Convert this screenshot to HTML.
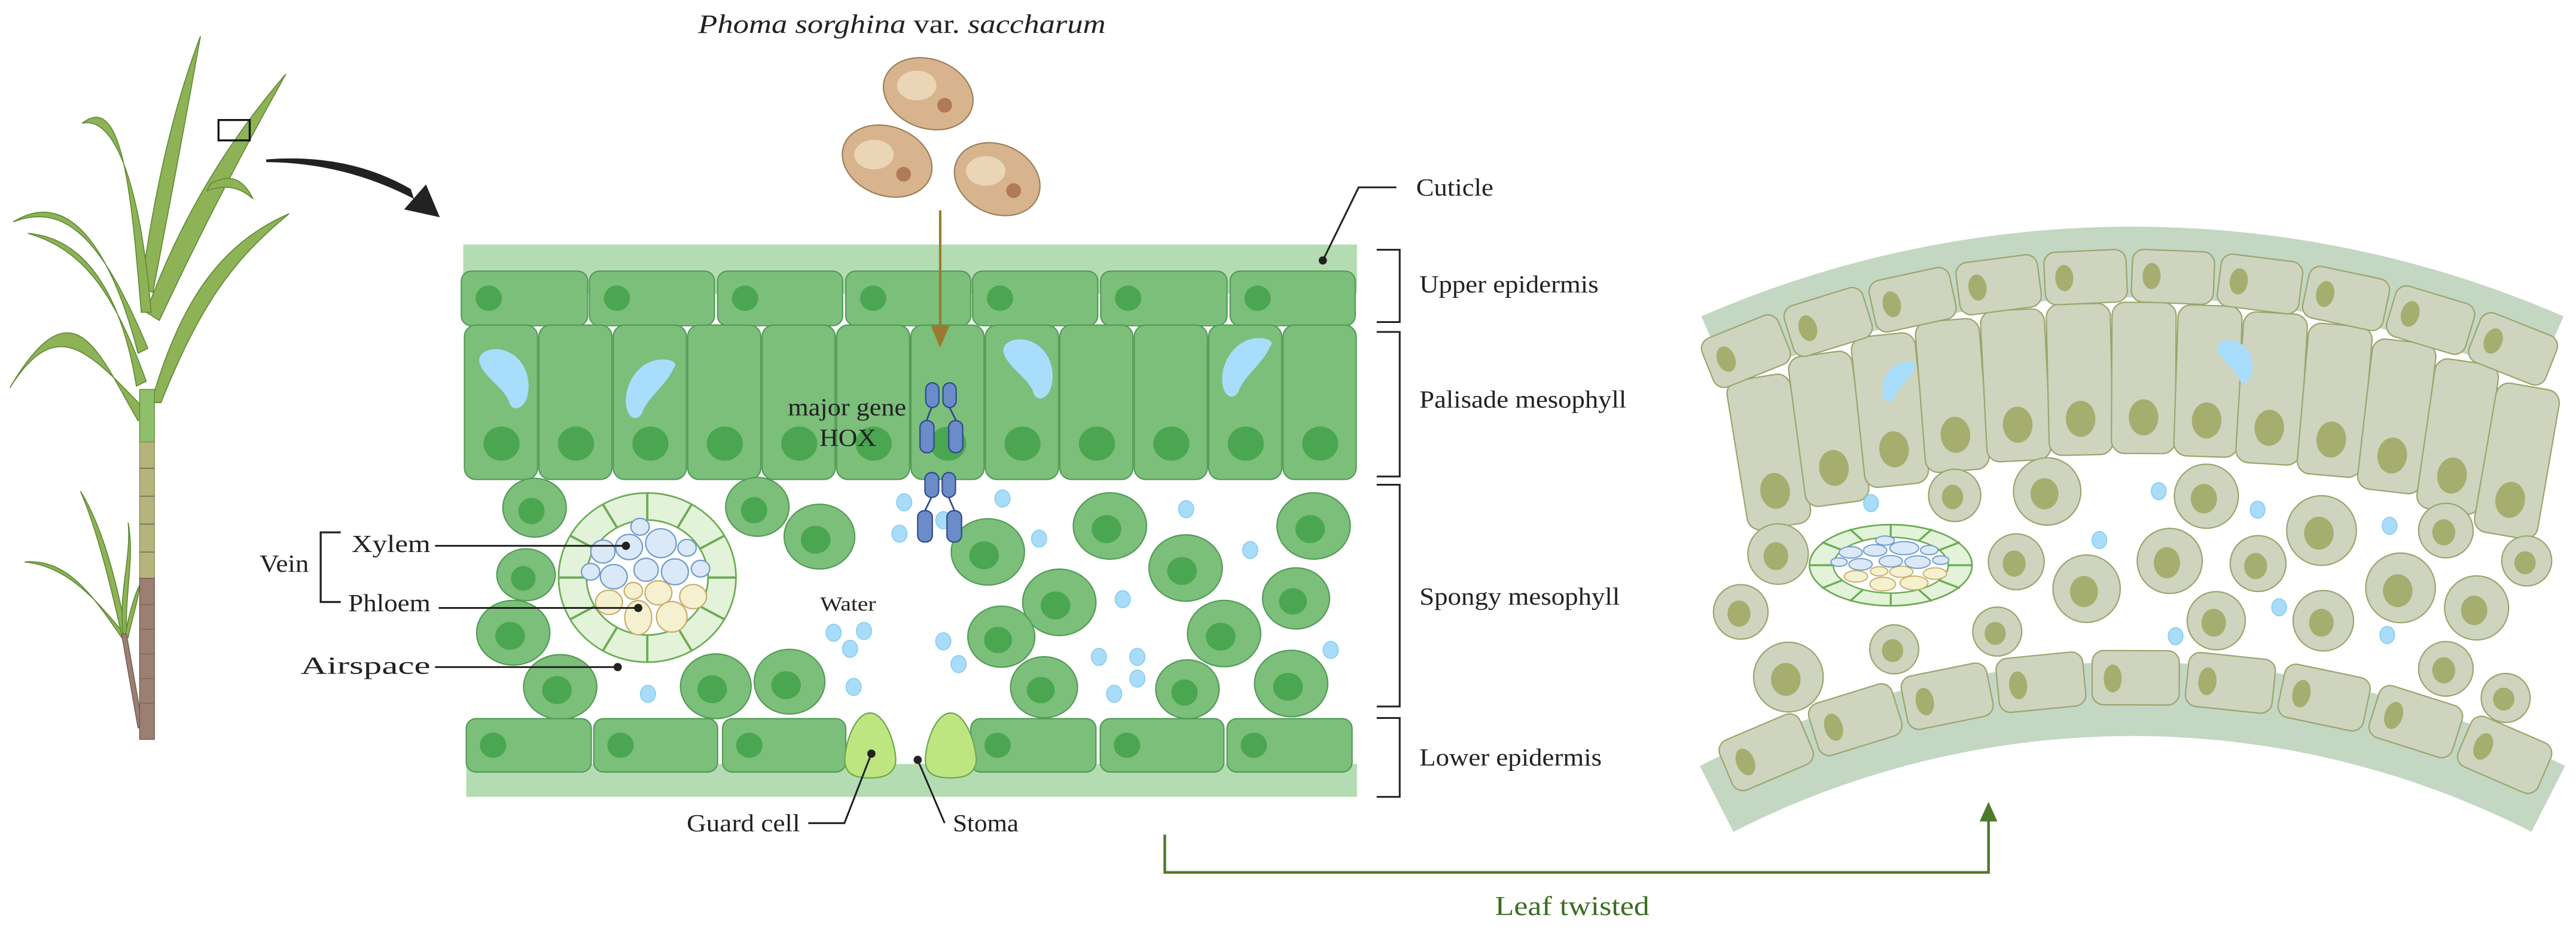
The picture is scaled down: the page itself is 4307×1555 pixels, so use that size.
<!DOCTYPE html>
<html><head><meta charset="utf-8"><style>
html,body{margin:0;padding:0;background:#fff;}
svg{display:block;}
text{font-family:"Liberation Serif",serif;fill:#222;}
</style></head><body>
<svg width="4307" height="1555" viewBox="0 0 1568 566" xmlns="http://www.w3.org/2000/svg">
<defs>
<g id="rpal"><rect x="1278.5" y="184" width="39" height="92" rx="8" fill="#ced4be" stroke="#9ba56c" stroke-width="0.8"/><ellipse cx="1298" cy="254" rx="9" ry="11" fill="#a5ae6f"/></g>
<g id="rup"><rect x="1273" y="152" width="50" height="32" rx="7" fill="#ced4be" stroke="#9ba56c" stroke-width="0.8"/><ellipse cx="1285" cy="168" rx="5.5" ry="8" fill="#a5ae6f"/></g>
<g id="rlo"><rect x="1271.5" y="396" width="53" height="33" rx="7" fill="#ced4be" stroke="#9ba56c" stroke-width="0.8"/><ellipse cx="1284" cy="413" rx="5.5" ry="8.5" fill="#a5ae6f"/></g>
</defs>

<!-- ===== Sugarcane plant ===== -->
<g fill="#8db356" stroke="#5f8a35" stroke-width="0.6">
<path d="M86,175 Q98,85 122,22 Q110,90 93,178 Z"/>
<path d="M89,190 Q118,110 174,45 Q132,120 97,195 Z"/>
<path d="M128,112 Q145,102 154,121 Q142,110 126,116 Z"/>
<path d="M86,190 C80,120 75,55 50,75 C72,70 86,120 92,190 Z"/>
<path d="M84,215 C70,160 45,112 8,135 C42,122 64,150 90,212 Z"/>
<path d="M83,235 C75,185 55,145 17,142 C52,152 70,180 89,232 Z"/>
<path d="M84,256 C60,215 45,170 6,236 C35,190 55,215 89,250 Z"/>
<path d="M92,245 C108,190 130,150 176,130 C142,158 122,185 98,245 Z"/>
<path d="M74,388 C55,360 40,340 15,342 C42,345 58,365 76,386 Z"/>
<path d="M74,386 C66,350 58,320 49,299 C62,320 70,350 77,385 Z"/>
<path d="M75,386 C72,360 80,340 78,318 C82,340 76,360 77,386 Z"/>
<path d="M76,388 C78,375 82,362 85,356 C84,366 80,378 78,388 Z"/>
</g>
<path d="M74,386 L84,443 L87,443 L77,386 Z" fill="#9c7f72" stroke="#6e574c" stroke-width="0.5"/>
<rect x="85" y="237" width="9" height="32" fill="#8fbf6a" stroke="#5f8a35" stroke-width="0.5"/>
<rect x="85" y="269" width="9" height="83" fill="#b5b47c" stroke="#8a8a55" stroke-width="0.5"/>
<rect x="85" y="352" width="9" height="98" fill="#9c7f72" stroke="#6e574c" stroke-width="0.5"/>
<g stroke="#7a6a55" stroke-width="0.6">
<line x1="85" y1="285" x2="94" y2="285"/><line x1="85" y1="302" x2="94" y2="302"/><line x1="85" y1="319" x2="94" y2="319"/><line x1="85" y1="336" x2="94" y2="336"/><line x1="85" y1="368" x2="94" y2="368"/><line x1="85" y1="383" x2="94" y2="383"/><line x1="85" y1="398" x2="94" y2="398"/><line x1="85" y1="413" x2="94" y2="413"/><line x1="85" y1="428" x2="94" y2="428"/>
</g>
<rect x="133" y="73" width="19" height="12.4" fill="none" stroke="#111" stroke-width="1.2"/>
<path d="M162,97 Q212,93 250,115 L252,121 Q210,99 162,98.6 Z" fill="#222"/>
<polygon points="267.7,132.2 246,127.4 259.3,112.2" fill="#222"/>

<!-- ===== Title & spores ===== -->
<text x="425" y="20" font-size="16" textLength="248" lengthAdjust="spacingAndGlyphs"><tspan font-style="italic">Phoma sorghina</tspan> var. <tspan font-style="italic">saccharum</tspan></text>
<g stroke="#9e7f5c" stroke-width="0.8">
<ellipse cx="565" cy="57" rx="28" ry="21" transform="rotate(20 565 57)" fill="#d7b48e"/>
<ellipse cx="540" cy="98" rx="28" ry="21" transform="rotate(20 540 98)" fill="#d7b48e"/>
<ellipse cx="607" cy="109" rx="27" ry="21" transform="rotate(25 607 109)" fill="#d7b48e"/>
</g>
<g fill="#ead6b6"><ellipse cx="558" cy="52" rx="12" ry="9"/><ellipse cx="532" cy="94" rx="12" ry="9"/><ellipse cx="600" cy="104" rx="12" ry="9"/></g>
<g fill="#b07a56"><circle cx="575" cy="64" r="4.5"/><circle cx="550" cy="106" r="4.5"/><circle cx="617" cy="116" r="4.5"/></g>

<!-- ===== Left leaf cross-section ===== -->
<rect x="282" y="148.8" width="544" height="30" fill="#b4dcb2"/>
<rect x="283.8" y="465" width="542.2" height="20" fill="#b4dcb2"/>
<g fill="#7bbf7a" stroke="#539b58" stroke-width="0.8">
<rect x="280.8" y="165" width="76.9" height="33.2" rx="6"/><rect x="358.8" y="165" width="76.1" height="33.2" rx="6"/><rect x="436.8" y="165" width="76.1" height="33.2" rx="6"/><rect x="514.8" y="165" width="76.1" height="33.2" rx="6"/><rect x="592" y="165" width="76.2" height="33.2" rx="6"/><rect x="670" y="165" width="76.9" height="33.2" rx="6"/><rect x="748.8" y="165" width="76.1" height="33.2" rx="6"/>
<rect x="282.7" y="197.8" width="44.5" height="94" rx="7"/><rect x="328" y="197.8" width="44.5" height="94" rx="7"/><rect x="373.3" y="197.8" width="44.5" height="94" rx="7"/><rect x="418.6" y="197.8" width="44.5" height="94" rx="7"/><rect x="463.9" y="197.8" width="44.5" height="94" rx="7"/><rect x="509.2" y="197.8" width="44.5" height="94" rx="7"/><rect x="554.5" y="197.8" width="44.5" height="94" rx="7"/><rect x="599.8" y="197.8" width="44.5" height="94" rx="7"/><rect x="645.1" y="197.8" width="44.5" height="94" rx="7"/><rect x="690.4" y="197.8" width="44.5" height="94" rx="7"/><rect x="735.7" y="197.8" width="44.5" height="94" rx="7"/><rect x="781" y="197.8" width="44.5" height="94" rx="7"/>
</g>
<g fill="#4aa651">
<ellipse cx="297.5" cy="181.5" rx="8" ry="7.7"/><ellipse cx="375.5" cy="181.5" rx="8" ry="7.7"/><ellipse cx="453.5" cy="181.5" rx="8" ry="7.7"/><ellipse cx="531.5" cy="181.5" rx="8" ry="7.7"/><ellipse cx="608.7" cy="181.5" rx="8" ry="7.7"/><ellipse cx="686.7" cy="181.5" rx="8" ry="7.7"/><ellipse cx="765.5" cy="181.5" rx="8" ry="7.7"/>
<ellipse cx="305.3" cy="270" rx="11" ry="10.4"/><ellipse cx="350.6" cy="270" rx="11" ry="10.4"/><ellipse cx="395.9" cy="270" rx="11" ry="10.4"/><ellipse cx="441.2" cy="270" rx="11" ry="10.4"/><ellipse cx="486.5" cy="270" rx="11" ry="10.4"/><ellipse cx="531.8" cy="270" rx="11" ry="10.4"/><ellipse cx="577.1" cy="270" rx="11" ry="10.4"/><ellipse cx="622.4" cy="270" rx="11" ry="10.4"/><ellipse cx="667.7" cy="270" rx="11" ry="10.4"/><ellipse cx="713" cy="270" rx="11" ry="10.4"/><ellipse cx="758.3" cy="270" rx="11" ry="10.4"/><ellipse cx="803.6" cy="270" rx="11" ry="10.4"/>
</g>
<g fill="#a8ddfb">
<path transform="translate(290,211)" d="M2,10 C0,4 8,0 16,2 C28,5 34,18 31,30 C29,38 22,40 20,34 C18,26 4,18 2,10 Z"/>
<path transform="translate(378,218)" d="M32,6 C36,2 28,0 22,1 C10,3 2,16 3,28 C4,37 10,39 13,33 C16,24 28,16 32,6 Z"/>
<path transform="translate(609,205)" d="M2,10 C0,4 8,0 16,2 C28,5 34,18 31,30 C29,38 22,40 20,34 C18,26 4,18 2,10 Z"/>
<path transform="translate(741,205)" d="M32,6 C36,2 28,0 22,1 C10,3 2,16 3,28 C4,37 10,39 13,33 C16,24 28,16 32,6 Z"/>
</g>
<!-- brown arrow on top -->
<line x1="572.3" y1="128" x2="572.3" y2="200" stroke="#9a7a2e" stroke-width="1.5"/>
<polygon points="566.5,198 578,198 572.3,211.5" fill="#9a7a2e"/>
<!-- spongy cells -->
<g fill="#7bbf7a" stroke="#539b58" stroke-width="0.8">
<ellipse cx="325.4" cy="309" rx="19.3" ry="17.9"/><ellipse cx="320.2" cy="349.8" rx="17.8" ry="15.8"/><ellipse cx="312.4" cy="385.1" rx="22.3" ry="19.7"/><ellipse cx="341" cy="418.1" rx="22.3" ry="19.7"/><ellipse cx="461" cy="308.5" rx="19.3" ry="17.9"/><ellipse cx="498.8" cy="326.6" rx="21.5" ry="19.7"/><ellipse cx="435.7" cy="417.7" rx="21.5" ry="19.7"/><ellipse cx="480.6" cy="414.9" rx="21.5" ry="19.7"/><ellipse cx="601.3" cy="335.9" rx="22.3" ry="20.2"/><ellipse cx="675.6" cy="320.1" rx="22.3" ry="20.2"/><ellipse cx="721.7" cy="345.7" rx="22.3" ry="20.2"/><ellipse cx="799.6" cy="320.1" rx="22.3" ry="20.2"/><ellipse cx="644.8" cy="366.6" rx="22.3" ry="20.2"/><ellipse cx="609.5" cy="387.5" rx="20.4" ry="18.6"/><ellipse cx="635.5" cy="418.3" rx="20.4" ry="18.6"/><ellipse cx="745.1" cy="385.6" rx="22.3" ry="20.2"/><ellipse cx="788.9" cy="364.2" rx="20.4" ry="18.6"/><ellipse cx="722.8" cy="419.5" rx="19.3" ry="17.9"/><ellipse cx="785.9" cy="416" rx="22.3" ry="20.2"/>
</g>
<g fill="#4aa651">
<ellipse cx="323.5" cy="311" rx="8" ry="8"/><ellipse cx="318.5" cy="352" rx="7.5" ry="7.5"/><ellipse cx="310.5" cy="387" rx="9" ry="8.5"/><ellipse cx="339" cy="420" rx="9" ry="8.5"/><ellipse cx="459" cy="310.5" rx="8" ry="8"/><ellipse cx="496.5" cy="328.5" rx="9" ry="8.5"/><ellipse cx="433.5" cy="419.5" rx="9" ry="8.5"/><ellipse cx="478.5" cy="417" rx="9" ry="8.5"/><ellipse cx="599" cy="338" rx="9" ry="8.5"/><ellipse cx="673.5" cy="322" rx="9" ry="8.5"/><ellipse cx="719.5" cy="347.5" rx="9" ry="8.5"/><ellipse cx="797.5" cy="322" rx="9" ry="8.5"/><ellipse cx="642.5" cy="368.5" rx="9" ry="8.5"/><ellipse cx="607.5" cy="389.5" rx="8.5" ry="8"/><ellipse cx="633.5" cy="420" rx="8.5" ry="8"/><ellipse cx="743" cy="387.5" rx="9" ry="8.5"/><ellipse cx="787" cy="366" rx="8.5" ry="8"/><ellipse cx="721" cy="421.5" rx="8" ry="8"/><ellipse cx="784" cy="418" rx="9" ry="8.5"/>
</g>
<!-- left vein -->
<ellipse cx="394" cy="351.5" rx="54" ry="51.5" fill="#e2f3d9" stroke="#6dab55" stroke-width="1"/>
<ellipse cx="394" cy="351.5" rx="37" ry="35" fill="#fff" stroke="#6dab55" stroke-width="1"/>
<g stroke="#6dab55" stroke-width="1.4">
<line x1="431" y1="351.5" x2="448" y2="351.5"/><line x1="357" y1="351.5" x2="340" y2="351.5"/><line x1="394" y1="316.5" x2="394" y2="300"/><line x1="394" y1="386.5" x2="394" y2="403"/>
<line x1="426" y1="334" x2="441" y2="326"/><line x1="426" y1="369" x2="441" y2="377"/><line x1="362" y1="334" x2="347" y2="326"/><line x1="362" y1="369" x2="347" y2="377"/>
<line x1="412.5" y1="321" x2="421" y2="307"/><line x1="375.5" y1="321" x2="367" y2="307"/><line x1="412.5" y1="382" x2="421" y2="396"/><line x1="375.5" y1="382" x2="367" y2="396"/>
</g>
<g fill="#f5f0cf" stroke="#c9ad6a" stroke-width="0.8">
<ellipse cx="385.5" cy="359.6" rx="5.6" ry="5.1"/><ellipse cx="400.8" cy="360.8" rx="8.2" ry="7.4"/><ellipse cx="370.7" cy="366.6" rx="8.2" ry="7.4"/><ellipse cx="421.9" cy="363.1" rx="8.2" ry="7.4"/><ellipse cx="388.5" cy="375.9" rx="8.2" ry="10.4"/><ellipse cx="408.9" cy="375.4" rx="9.3" ry="9.3"/>
</g>
<g fill="#dbe8f8" stroke="#6f9ccc" stroke-width="0.8">
<ellipse cx="389.6" cy="320.6" rx="5.6" ry="5.1"/><ellipse cx="382.9" cy="332.9" rx="8.2" ry="7.7"/><ellipse cx="402.3" cy="330.6" rx="9.3" ry="8.8"/><ellipse cx="418.2" cy="333.4" rx="5.6" ry="5.1"/><ellipse cx="367" cy="335.7" rx="7.4" ry="7"/><ellipse cx="359.5" cy="348" rx="5.6" ry="5.1"/><ellipse cx="373.6" cy="351" rx="8.2" ry="7.4"/><ellipse cx="393.3" cy="346.8" rx="7.4" ry="7"/><ellipse cx="410.8" cy="348" rx="8.2" ry="7.9"/><ellipse cx="426.4" cy="346.1" rx="5.6" ry="5.1"/>
</g>
<g fill="#a9dcf8" stroke="#86cdf3" stroke-width="0.6">
<ellipse cx="550.4" cy="305.7" rx="4.6" ry="5.2"/><ellipse cx="610.2" cy="303.4" rx="4.6" ry="5.2"/><ellipse cx="547.5" cy="324.8" rx="4.6" ry="5.2"/><ellipse cx="632.5" cy="327.8" rx="4.6" ry="5.2"/><ellipse cx="722" cy="309.9" rx="4.6" ry="5.2"/><ellipse cx="761" cy="334.8" rx="4.6" ry="5.2"/><ellipse cx="683.4" cy="364.7" rx="4.6" ry="5.2"/><ellipse cx="507.4" cy="385.1" rx="4.6" ry="5.2"/><ellipse cx="525.9" cy="384" rx="4.6" ry="5.2"/><ellipse cx="517.4" cy="394.9" rx="4.6" ry="5.2"/><ellipse cx="574.2" cy="390.3" rx="4.6" ry="5.2"/><ellipse cx="583.5" cy="404.2" rx="4.6" ry="5.2"/><ellipse cx="519.6" cy="418.1" rx="4.6" ry="5.2"/><ellipse cx="394.4" cy="422.3" rx="4.6" ry="5.2"/><ellipse cx="668.9" cy="399.8" rx="4.6" ry="5.2"/><ellipse cx="692.3" cy="399.8" rx="4.6" ry="5.2"/><ellipse cx="692.3" cy="413" rx="4.6" ry="5.2"/><ellipse cx="678.2" cy="422.3" rx="4.6" ry="5.2"/><ellipse cx="810" cy="395.6" rx="4.6" ry="5.2"/><ellipse cx="574.2" cy="316.6" rx="4.6" ry="5.2"/>
</g>
<g fill="#7bbf7a" stroke="#539b58" stroke-width="0.8">
<rect x="283.8" y="437.4" width="76.1" height="32.5" rx="6"/><rect x="361.4" y="437.4" width="75.4" height="32.5" rx="6"/><rect x="439.8" y="437.4" width="75" height="32.5" rx="6"/><rect x="590.9" y="437.4" width="76.2" height="32.5" rx="6"/><rect x="669.7" y="437.4" width="75.3" height="32.5" rx="6"/><rect x="746.9" y="437.4" width="76.1" height="32.5" rx="6"/>
</g>
<g fill="#4aa651">
<ellipse cx="300.1" cy="453.6" rx="8" ry="7.7"/><ellipse cx="377.7" cy="453.6" rx="8" ry="7.7"/><ellipse cx="456.1" cy="453.6" rx="8" ry="7.7"/><ellipse cx="607.2" cy="453.6" rx="8" ry="7.7"/><ellipse cx="686" cy="453.6" rx="8" ry="7.7"/><ellipse cx="763.2" cy="453.6" rx="8" ry="7.7"/>
</g>
<g fill="#bde681" stroke="#6aa84f" stroke-width="0.8">
<path d="M529.6,434 C540,434 546.5,458 545,465 C543,472 537,473.5 529.6,473.5 C522,473.5 515.5,472 514.5,465 C513,458 519,434 529.6,434 Z"/>
<path d="M578.7,434 C589,434 595.5,458 594,465 C592,472 586,473.5 578.7,473.5 C571,473.5 564.5,472 563.5,465 C562,458 568,434 578.7,434 Z"/>
</g>
<g fill="#6b8cc8" stroke="#2e4a8a" stroke-width="0.8">
<rect x="563.5" y="233" width="8" height="15" rx="4"/><rect x="574" y="233" width="8" height="15" rx="4"/><rect x="560" y="256" width="8.5" height="19.5" rx="4"/><rect x="577.5" y="256" width="8.5" height="19.5" rx="4"/>
<rect x="563" y="287.6" width="8.4" height="15.1" rx="4"/><rect x="573.5" y="287.6" width="8.1" height="15.1" rx="4"/><rect x="558.6" y="310.8" width="8.9" height="19.1" rx="4"/><rect x="576.4" y="310.8" width="8.9" height="19.1" rx="4"/>
</g>
<g stroke="#2e4a8a" stroke-width="1" fill="none">
<path d="M567,248 L564,256 M578,248 L582,256 M567,302.7 L563,310.8 M577.5,302.7 L581,310.8"/>
</g>

<text x="479.6" y="252.8" font-size="15" textLength="72" lengthAdjust="spacingAndGlyphs">major gene</text>
<text x="498.8" y="271.4" font-size="15" textLength="34.6" lengthAdjust="spacingAndGlyphs">HOX</text>
<text x="499.2" y="371.7" font-size="12.5" textLength="34" lengthAdjust="spacingAndGlyphs">Water</text>
<text x="158" y="348" font-size="15" textLength="30" lengthAdjust="spacingAndGlyphs">Vein</text>
<path d="M207.4,324 L195.2,324 L195.2,366.4 L207.4,366.4" fill="none" stroke="#222" stroke-width="1.2"/>
<text x="214" y="336" font-size="15" textLength="48" lengthAdjust="spacingAndGlyphs">Xylem</text>
<text x="212" y="372" font-size="15" textLength="50" lengthAdjust="spacingAndGlyphs">Phloem</text>
<text x="183" y="410" font-size="15" textLength="79" lengthAdjust="spacingAndGlyphs">Airspace</text>
<g stroke="#222" stroke-width="1.1">
<line x1="264.8" y1="332.2" x2="381" y2="332.2"/><line x1="267" y1="370" x2="388.5" y2="370"/><line x1="264.8" y1="406" x2="376" y2="406"/>
</g>
<g fill="#222"><circle cx="381" cy="332.2" r="2.5"/><circle cx="388.5" cy="370" r="2.5"/><circle cx="376" cy="406" r="2.5"/><circle cx="530.4" cy="458.7" r="2.5"/><circle cx="558.6" cy="462.5" r="2.5"/><circle cx="805.2" cy="158.5" r="2.5"/></g>
<path d="M530.4,458.7 L514,501 L492,501" fill="none" stroke="#222" stroke-width="1.1"/>
<path d="M558.6,462.5 L575,501" fill="none" stroke="#222" stroke-width="1.1"/>
<text x="418" y="506" font-size="15" textLength="69" lengthAdjust="spacingAndGlyphs">Guard cell</text>
<text x="580" y="506" font-size="15" textLength="40" lengthAdjust="spacingAndGlyphs">Stoma</text>

<path d="M805.2,158.5 L827,114 L850,114" fill="none" stroke="#222" stroke-width="1.1"/>
<text x="862" y="119" font-size="15" textLength="47" lengthAdjust="spacingAndGlyphs">Cuticle</text>
<g fill="none" stroke="#222" stroke-width="1.1">
<path d="M838,152 L852,152 L852,196 L838,196"/>
<path d="M838,202 L852,202 L852,290 L838,290"/>
<path d="M838,295 L852,295 L852,430 L838,430"/>
<path d="M838,437 L852,437 L852,485 L838,485"/>
</g>
<text x="864" y="178" font-size="15" textLength="109" lengthAdjust="spacingAndGlyphs">Upper epidermis</text>
<text x="864" y="248" font-size="15" textLength="126" lengthAdjust="spacingAndGlyphs">Palisade mesophyll</text>
<text x="864" y="368" font-size="15" textLength="122" lengthAdjust="spacingAndGlyphs">Spongy mesophyll</text>
<text x="864" y="466" font-size="15" textLength="111" lengthAdjust="spacingAndGlyphs">Lower epidermis</text>

<path d="M709,508 L709,531 L1210.4,531 L1210.4,500" fill="none" stroke="#4d7a2a" stroke-width="1.6"/>
<polygon points="1205,500 1215.8,500 1210.4,488" fill="#4d7a2a"/>
<text x="910" y="557" font-size="16.5" textLength="94" lengthAdjust="spacingAndGlyphs" style="fill:#3b6e1f">Leaf twisted</text>

<!-- ===== Right twisted leaf ===== -->
<path d="M1035.6,192.5 A658,658 0 0 1 1560.4,192.5 L1543.2,232 A615,615 0 0 0 1052.8,232 Z" fill="#c3d7c3"/>
<path d="M1034.7,466.2 A580,580 0 0 1 1561.3,466.2 L1540.9,506.3 A535,535 0 0 0 1055.1,506.3 Z" fill="#c3d7c3"/>
<use href="#rpal" transform="translate(-221.5,45.1) rotate(-9.2 1298 229)"/>
<use href="#rpal" transform="translate(-185,31) rotate(-7.6 1298 229)"/>
<use href="#rpal" transform="translate(-147.7,19.6) rotate(-6 1298 229)"/>
<use href="#rpal" transform="translate(-109.7,10.7) rotate(-4.5 1298 229)"/>
<use href="#rpal" transform="translate(-71.1,4.5) rotate(-2.9 1298 229)"/>
<use href="#rpal" transform="translate(-32.1,0.9) rotate(-1.3 1298 229)"/>
<use href="#rpal" transform="translate(6.9,0) rotate(0.3 1298 229)"/>
<use href="#rpal" transform="translate(46,1.9) rotate(1.9 1298 229)"/>
<use href="#rpal" transform="translate(84.8,6.4) rotate(3.4 1298 229)"/>
<use href="#rpal" transform="translate(123.2,13.6) rotate(5 1298 229)"/>
<use href="#rpal" transform="translate(161,23.4) rotate(6.6 1298 229)"/>
<use href="#rpal" transform="translate(198.1,35.7) rotate(8.2 1298 229)"/>
<use href="#rpal" transform="translate(234.2,50.6) rotate(9.8 1298 229)"/>
<g fill="#a8ddfb">
<path transform="translate(1143.8,219.8) scale(0.68)" d="M32,6 C36,2 28,0 22,1 C10,3 2,16 3,28 C4,37 10,39 13,33 C16,24 28,16 32,6 Z"/>
<path transform="translate(1348.3,205.9) scale(0.72)" d="M2,10 C0,4 8,0 16,2 C28,5 34,18 31,30 C29,38 22,40 20,34 C18,26 4,18 2,10 Z"/>
</g>
<use href="#rup" transform="rotate(-22 1298 796)"/>
<use href="#rup" transform="rotate(-17.15 1298 796)"/>
<use href="#rup" transform="rotate(-12.3 1298 796)"/>
<use href="#rup" transform="rotate(-7.45 1298 796)"/>
<use href="#rup" transform="rotate(-2.6 1298 796)"/>
<use href="#rup" transform="rotate(2.25 1298 796)"/>
<use href="#rup" transform="rotate(7.1 1298 796)"/>
<use href="#rup" transform="rotate(11.95 1298 796)"/>
<use href="#rup" transform="rotate(16.8 1298 796)"/>
<use href="#rup" transform="rotate(21.65 1298 796)"/>
<g fill="#ced4be" stroke="#9ba56c" stroke-width="0.8">
<circle cx="1189.8" cy="301.5" r="15.9"/><circle cx="1246.1" cy="299.1" r="20.5"/><circle cx="1343" cy="302" r="19.5"/><circle cx="1413.1" cy="322.9" r="21.2"/><circle cx="1488.8" cy="322.9" r="16.6"/><circle cx="1538" cy="341.4" r="15.2"/><circle cx="1082.3" cy="337.2" r="18.4"/><circle cx="1227.3" cy="341.9" r="17"/><circle cx="1320.7" cy="341.4" r="19.8"/><circle cx="1374.5" cy="343" r="17"/><circle cx="1461.2" cy="357.8" r="21.2"/><circle cx="1270.1" cy="358.3" r="20.5"/><circle cx="1507.5" cy="370" r="19.5"/><circle cx="1059.6" cy="372.4" r="16.6"/><circle cx="1215.7" cy="384.4" r="14.9"/><circle cx="1349" cy="377.8" r="17.7"/><circle cx="1414.2" cy="377.8" r="18.4"/><circle cx="1088.6" cy="412.1" r="21.2"/><circle cx="1153" cy="395.2" r="14.9"/><circle cx="1488.8" cy="407.1" r="16.6"/><circle cx="1525.2" cy="424.8" r="14.9"/>
</g>
<g fill="#a5ae6f">
<ellipse cx="1188.5" cy="302.5" rx="6.5" ry="7.5"/><ellipse cx="1244.5" cy="300.5" rx="8.5" ry="9.5"/><ellipse cx="1341.5" cy="303.5" rx="8" ry="9"/><ellipse cx="1411.5" cy="324.5" rx="9" ry="10"/><ellipse cx="1487.5" cy="324" rx="7" ry="8"/><ellipse cx="1537" cy="342.5" rx="6.5" ry="7"/><ellipse cx="1081" cy="338.5" rx="7.5" ry="8.5"/><ellipse cx="1226" cy="343" rx="7" ry="8"/><ellipse cx="1319" cy="342.5" rx="8" ry="9.5"/><ellipse cx="1373" cy="344.5" rx="7" ry="8"/><ellipse cx="1459.5" cy="359.5" rx="9" ry="10"/><ellipse cx="1268.5" cy="360" rx="8.5" ry="9.5"/><ellipse cx="1506" cy="371.5" rx="8" ry="9"/><ellipse cx="1058.5" cy="373.5" rx="7" ry="8"/><ellipse cx="1214.5" cy="385.5" rx="6.5" ry="7"/><ellipse cx="1347.5" cy="379" rx="7.5" ry="8.5"/><ellipse cx="1413" cy="379" rx="7.5" ry="8.5"/><ellipse cx="1087" cy="413.5" rx="9" ry="10"/><ellipse cx="1152" cy="396" rx="6.5" ry="7"/><ellipse cx="1487.5" cy="408" rx="7" ry="8"/><ellipse cx="1524" cy="425.5" rx="6.5" ry="7"/>
</g>
<g fill="#a9dcf8" stroke="#86cdf3" stroke-width="0.6">
<ellipse cx="1138.9" cy="306.2" rx="4.5" ry="5.2"/><ellipse cx="1314" cy="298.9" rx="4.5" ry="5.2"/><ellipse cx="1374.2" cy="310.2" rx="4.5" ry="5.2"/><ellipse cx="1454.5" cy="320" rx="4.5" ry="5.2"/><ellipse cx="1277.9" cy="328.7" rx="4.5" ry="5.2"/><ellipse cx="1387.3" cy="369.6" rx="4.5" ry="5.2"/><ellipse cx="1324.3" cy="387.2" rx="4.5" ry="5.2"/><ellipse cx="1453.1" cy="386.5" rx="4.5" ry="5.2"/>
</g>
<ellipse cx="1150.9" cy="344" rx="49.5" ry="24.7" fill="#e2f3d9" stroke="#6dab55" stroke-width="1"/>
<ellipse cx="1150.9" cy="344" rx="35" ry="17" fill="#fff" stroke="#6dab55" stroke-width="0.9"/>
<g stroke="#6dab55" stroke-width="1.2">
<line x1="1185.9" y1="344" x2="1200.4" y2="344"/><line x1="1115.9" y1="344" x2="1101.4" y2="344"/><line x1="1150.9" y1="327" x2="1150.9" y2="319.3"/><line x1="1150.9" y1="361" x2="1150.9" y2="368.7"/>
<line x1="1168" y1="329" x2="1176" y2="322"/><line x1="1133.8" y1="329" x2="1126" y2="322"/><line x1="1168" y1="359" x2="1176" y2="366"/><line x1="1133.8" y1="359" x2="1126" y2="366"/>
<line x1="1180" y1="335" x2="1193" y2="330"/><line x1="1121.8" y1="335" x2="1109" y2="330"/><line x1="1180" y1="353" x2="1193" y2="358"/><line x1="1121.8" y1="353" x2="1109" y2="358"/>
</g>
<g fill="#f5f0cf" stroke="#c9ad6a" stroke-width="0.7">
<ellipse cx="1143.8" cy="347.7" rx="5.3" ry="2.8"/><ellipse cx="1157.3" cy="348" rx="7.1" ry="3.4"/><ellipse cx="1129.7" cy="350.8" rx="7.1" ry="3.5"/><ellipse cx="1177.8" cy="349.1" rx="7.1" ry="3.5"/><ellipse cx="1146" cy="355.5" rx="7.8" ry="4.2"/><ellipse cx="1165.1" cy="354.8" rx="8.5" ry="4.2"/>
</g>
<g fill="#dbe8f8" stroke="#6f9ccc" stroke-width="0.7">
<ellipse cx="1147.4" cy="329" rx="5.7" ry="2.8"/><ellipse cx="1126.5" cy="336.2" rx="7.1" ry="3.5"/><ellipse cx="1141.4" cy="335" rx="7.1" ry="3.5"/><ellipse cx="1159.1" cy="333.6" rx="8.8" ry="4"/><ellipse cx="1174.3" cy="334.8" rx="5.3" ry="2.8"/><ellipse cx="1119.4" cy="342.1" rx="5" ry="2.6"/><ellipse cx="1132.5" cy="343.5" rx="7.1" ry="3.5"/><ellipse cx="1150.9" cy="341.6" rx="7.1" ry="3.5"/><ellipse cx="1167.2" cy="342.1" rx="7.8" ry="3.8"/><ellipse cx="1181.3" cy="340.9" rx="5" ry="2.6"/>
</g>
<use href="#rlo" transform="rotate(-23 1298 983)"/>
<use href="#rlo" transform="rotate(-17.2 1298 983)"/>
<use href="#rlo" transform="rotate(-11.4 1298 983)"/>
<use href="#rlo" transform="rotate(-5.6 1298 983)"/>
<use href="#rlo" transform="rotate(0.2 1298 983)"/>
<use href="#rlo" transform="rotate(6 1298 983)"/>
<use href="#rlo" transform="rotate(11.8 1298 983)"/>
<use href="#rlo" transform="rotate(17.6 1298 983)"/>
<use href="#rlo" transform="rotate(23.4 1298 983)"/>
</svg>
</body></html>
